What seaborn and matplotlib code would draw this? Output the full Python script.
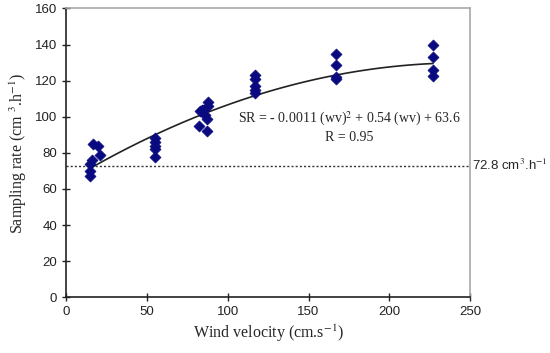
import numpy as np
import pandas as pd
import matplotlib
matplotlib.use("Agg")
import matplotlib.pyplot as plt
import matplotlib.transforms as mtransforms
import seaborn as sns

# measured points (wind velocity, sampling rate)
wind = [15, 15, 15, 16, 17, 20, 21,
        55, 55, 55, 55, 55,
        82, 83, 84, 85, 86, 87, 87, 88, 88,
        117, 117, 117, 117, 117,
        167, 167, 167, 167,
        227, 227, 227, 227]
rate = [67, 70, 74, 76, 85, 84, 79,
        88, 86, 84, 82, 77.5,
        95, 103, 104, 104, 101, 99, 92, 106, 108,
        123, 121, 117, 115, 113,
        135, 128.5, 122, 121,
        139.5, 133, 126, 122.5]

# fitted equation from the chart
coef_a, coef_b, coef_c = -0.0011, 0.54, 63.6
fit_range = [15, 227]
threshold = 72.8

df = pd.DataFrame({"wind": wind, "rate": rate})
xs = np.linspace(fit_range[0], fit_range[1], 100)
fit = pd.DataFrame({"wind": xs, "rate": coef_a * xs**2 + coef_b * xs + coef_c})

sns.set_style("white")
plt.rcParams["mathtext.fontset"] = "stix"

fig = plt.figure(figsize=(5.5, 3.53), dpi=100)
ax = fig.add_axes([0.12, 0.158, 0.735, 0.818])

sns.lineplot(data=fit, x="wind", y="rate", color="#222222", linewidth=1.2, ax=ax)
sns.scatterplot(data=df, x="wind", y="rate", marker="D", color="#0a0a80",
                s=32, edgecolor="#0a0a80", zorder=3, ax=ax)
ax.axhline(threshold, color="#333333", linestyle=(0, (1.5, 1.5)), linewidth=1)

trans = mtransforms.blended_transform_factory(ax.transAxes, ax.transData)
ax.text(1.005, threshold, "72.8 cm$^{3}$.h$^{-1}$", transform=trans,
        fontsize=9.5, family="Liberation Sans", va="center", ha="left",
        clip_on=False)

ax.text(175, 99, "SR = - 0.0011 (wv)$^{2}$ + 0.54 (wv) + 63.6",
        family="Liberation Serif", fontsize=10, ha="center", va="center")
ax.text(175, 88.5, "R = 0.95", family="Liberation Serif", fontsize=10,
        ha="center", va="center")

ax.set_xlim(0, 250)
ax.set_ylim(0, 160)
ax.set_xticks(range(0, 251, 50))
ax.set_yticks(range(0, 161, 20))
ax.set_xlabel("Wind velocity (cm.s$^{-1}$)", family="Liberation Serif",
              fontsize=11.5, labelpad=3)
ax.set_ylabel("Sampling rate (cm $^{3}$.h$^{-1}$)", family="Liberation Serif",
              fontsize=11.5)
ax.tick_params(direction="inout", length=6, width=1, colors="#222222",
               labelsize=9.5, left=True, bottom=True)
for lab in ax.get_xticklabels() + ax.get_yticklabels():
    lab.set_family("Liberation Sans")

for side in ["left", "bottom"]:
    ax.spines[side].set_color("#222222")
    ax.spines[side].set_linewidth(1.2)
for side in ["top", "right"]:
    ax.spines[side].set_color("#a8a8a8")
    ax.spines[side].set_linewidth(1.2)

fig.savefig("out.png", dpi=100)
